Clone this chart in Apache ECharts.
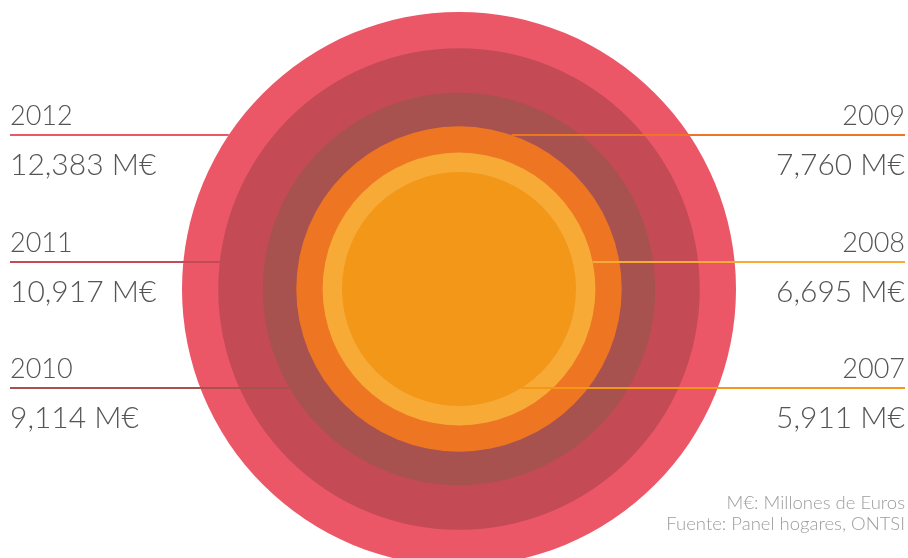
<!DOCTYPE html>
<html><head><meta charset="utf-8">
<script src="https://cdn.jsdelivr.net/npm/echarts@6/dist/echarts.min.js"></script>
<style>html,body{margin:0;padding:0;background:#fff}#c{width:908px;height:558px}</style>
</head><body><div id="c"></div>
<script>
// ---- data ----
const years = ['2012', '2011', '2010', '2009', '2008', '2007'];
const values = [12383, 10917, 9114, 7760, 6695, 5911];
const unit = 'M€';
const notes = ['M€: Millones de Euros', 'Fuente: Panel hogares, ONTSI'];

// ---- styles / layout ----
const palette = ['#EB5767', '#C44A56', '#A8524F', '#EE7622', '#F8AA36', '#F29718'];
const CX = 459, CY = 289, R = 277;
const rowY = [135, 262, 388];
const FONT = 'Lato, "Open Sans", sans-serif';

const chart = echarts.init(document.getElementById('c'), null, {renderer: 'canvas'});
chart.setOption({
  animation: false,
  polar: {center: [CX, CY], radius: R},
  angleAxis: {type: 'category', data: ['total'], show: false, startAngle: 90},
  radiusAxis: {type: 'value', min: 1178, max: 12383, show: false},
  series: years.map((y, i) => ({
    type: 'bar', name: y, coordinateSystem: 'polar', data: [values[i]],
    barGap: '-100%', barCategoryGap: '0%', silent: true,
    itemStyle: {color: palette[i]}
  }))
});

function ringRadius(v) {
  try {
    const p = chart.convertToPixel({polarIndex: 0}, [v, 'total']);
    if (p && isFinite(p[0])) return Math.hypot(p[0] - CX, p[1] - CY);
  } catch (e) {}
  return R * (v - 1178) / (12383 - 1178);
}

const g = [];
years.forEach((y, i) => {
  const left = i < 3;
  const ly = rowY[i % 3];
  const r = ringRadius(values[i]);
  const dx = Math.sqrt(Math.max(r * r - (ly - CY) * (ly - CY), 0));
  const x1 = left ? 10 : CX + dx;
  const x2 = left ? CX - dx : 905;
  const tx = left ? 10 : 905;
  const al = left ? 'left' : 'right';
  g.push({type: 'line', z: 100, shape: {x1: x1, y1: ly, x2: x2, y2: ly},
          style: {stroke: palette[i], lineWidth: 2}});
  g.push({type: 'text', z: 100, x: tx, y: ly - 19,
          style: {text: y, font: '300 27px ' + FONT, fill: '#555555', align: al, textAlign: al,
                  verticalAlign: 'middle', textVerticalAlign: 'middle'}});
  g.push({type: 'text', z: 100, x: tx, y: ly + 30,
          style: {text: values[i].toLocaleString('en-US') + ' ' + unit, font: '300 30px ' + FONT,
                  fill: '#555555', align: al, textAlign: al,
                  verticalAlign: 'middle', textVerticalAlign: 'middle'}});
});
notes.forEach((t, k) => {
  g.push({type: 'text', z: 100, x: 905, y: 503 + k * 21,
          style: {text: t, font: '300 18.5px ' + FONT, fill: '#9c9c9c', align: 'right', textAlign: 'right',
                  verticalAlign: 'middle', textVerticalAlign: 'middle'}});
});
chart.setOption({graphic: {elements: g}});
</script></body></html>
